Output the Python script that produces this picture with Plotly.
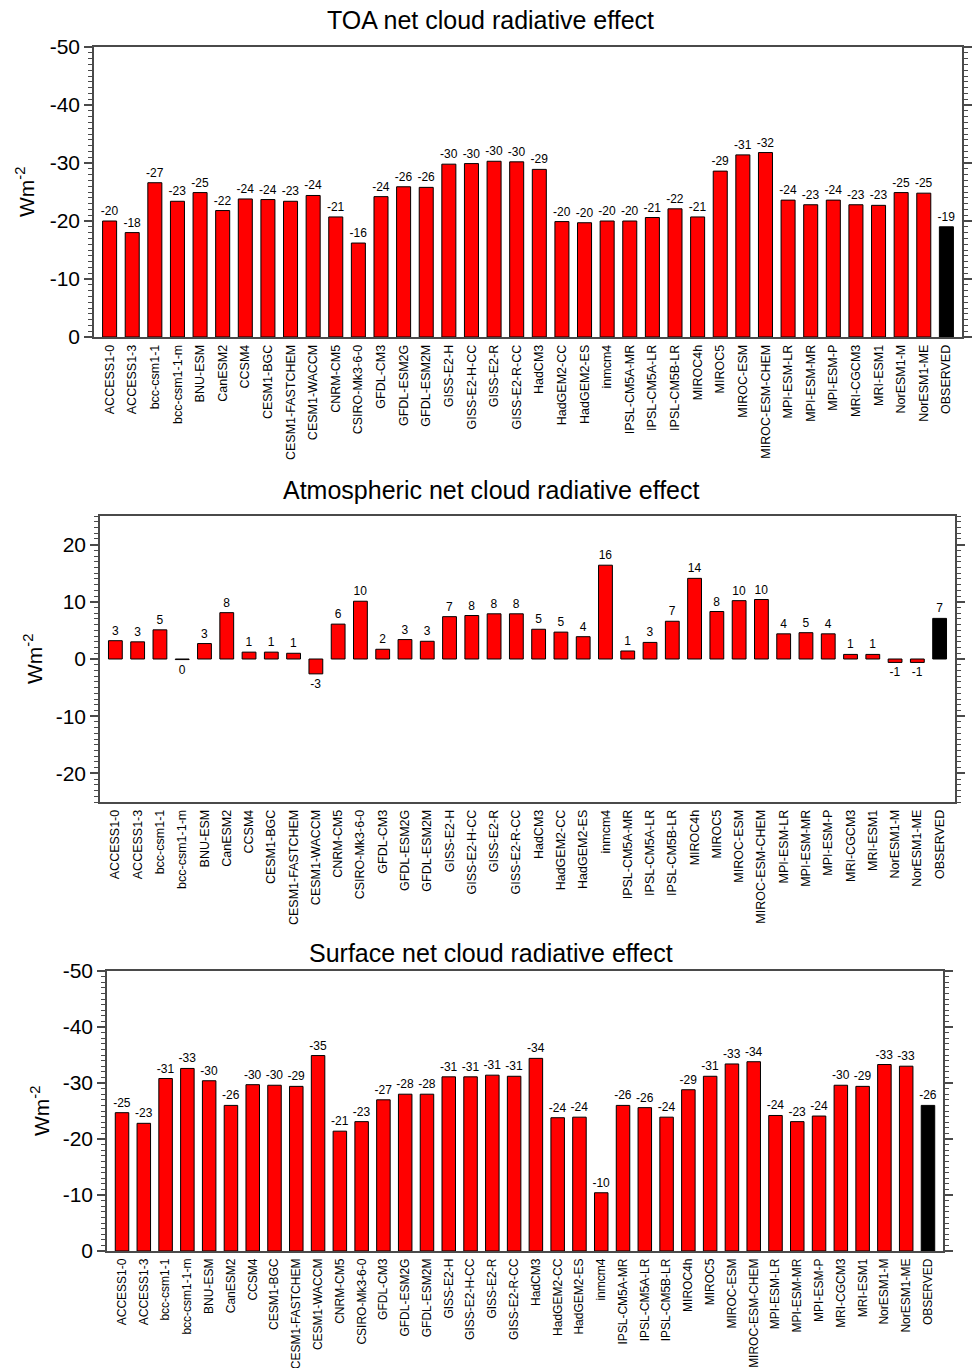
import plotly.graph_objects as go

# CMIP5 models plus the observational estimate (last entry)
models = [
    "ACCESS1-0", "ACCESS1-3", "bcc-csm1-1", "bcc-csm1-1-m", "BNU-ESM", "CanESM2",
    "CCSM4", "CESM1-BGC", "CESM1-FASTCHEM", "CESM1-WACCM", "CNRM-CM5",
    "CSIRO-Mk3-6-0", "GFDL-CM3", "GFDL-ESM2G", "GFDL-ESM2M", "GISS-E2-H",
    "GISS-E2-H-CC", "GISS-E2-R", "GISS-E2-R-CC", "HadCM3", "HadGEM2-CC",
    "HadGEM2-ES", "inmcm4", "IPSL-CM5A-MR", "IPSL-CM5A-LR", "IPSL-CM5B-LR",
    "MIROC4h", "MIROC5", "MIROC-ESM", "MIROC-ESM-CHEM", "MPI-ESM-LR",
    "MPI-ESM-MR", "MPI-ESM-P", "MRI-CGCM3", "MRI-ESM1", "NorESM1-M",
    "NorESM1-ME", "OBSERVED",
]

# Net cloud radiative effect, W m-2
toa_cre = [
    -20.0, -18.0, -26.6, -23.4, -24.9, -21.8, -23.8, -23.7, -23.4, -24.4,
    -20.7, -16.2, -24.2, -25.9, -25.8, -29.8, -29.9, -30.3, -30.2, -28.9,
    -19.9, -19.7, -20.0, -20.0, -20.6, -22.1, -20.7, -28.6, -31.4, -31.8,
    -23.6, -22.8, -23.6, -22.8, -22.7, -24.9, -24.8, -19.0,
]
atm_cre = [
    3.2, 3.0, 5.1, -0.1, 2.7, 8.1, 1.2, 1.2, 1.0, -2.6,
    6.1, 10.1, 1.7, 3.4, 3.1, 7.4, 7.6, 7.9, 7.9, 5.2,
    4.7, 3.9, 16.4, 1.4, 2.9, 6.6, 14.1, 8.3, 10.2, 10.4,
    4.4, 4.6, 4.4, 0.8, 0.8, -0.6, -0.6, 7.1,
]
sfc_cre = [
    -24.7, -22.8, -30.8, -32.6, -30.4, -26.0, -29.7, -29.6, -29.4, -34.9,
    -21.4, -23.1, -27.0, -28.0, -28.0, -31.1, -31.1, -31.4, -31.2, -34.4,
    -23.8, -23.9, -10.4, -26.0, -25.6, -23.9, -28.8, -31.2, -33.4, -33.8,
    -24.2, -23.1, -24.1, -29.6, -29.4, -33.3, -33.0, -26.0,
]

panel_titles = [
    "TOA net cloud radiative effect",
    "Atmospheric net cloud radiative effect",
    "Surface net cloud radiative effect",
]
y_ranges = [[0, -50], [-25, 25], [0, -50]]
y_ticks = [[0, -10, -20, -30, -40, -50], [-20, -10, 0, 10, 20], [0, -10, -20, -30, -40, -50]]

W, H = 972, 1368
FONT = "Liberation Sans, Arial, Helvetica, sans-serif"
AXIS_COLOR = "#4a4a4a"

# panel frames in pixels: (left, right, top, bottom)
frames = [
    (94, 962, 47, 337),
    (100, 955, 516, 802),
    (107, 943, 971, 1251),
]
title_y = [20, 490, 953]
ylabel_x = [25, 33, 40]
xlabel_size = [12.5, 12.5, 12]

colors = ["#ff0000"] * (len(models) - 1) + ["#000000"]

fig = go.Figure()
annotations = []
layout_axes = {}

for i, (vals, title) in enumerate(zip([toa_cre, atm_cre, sfc_cre], panel_titles)):
    n = i + 1
    suffix = "" if n == 1 else str(n)
    left, right, top, bottom = frames[i]
    fig.add_trace(go.Bar(
        x=models,
        y=vals,
        xaxis="x" + suffix,
        yaxis="y" + suffix,
        marker=dict(color=colors, line=dict(color="#000000", width=1)),
        width=0.62,
        text=[str(round(v)) for v in vals],
        textposition="outside",
        constraintext="none",
        textfont=dict(family=FONT, size=12, color="#000000"),
        cliponaxis=False,
        showlegend=False,
        hoverinfo="x+y",
    ))
    layout_axes["xaxis" + suffix] = dict(
        domain=[left / W, right / W],
        anchor="y" + suffix,
        type="category",
        range=[-0.69, len(models) - 1 + 0.69],
        tickangle=-90,
        ticks="",
        showline=True,
        linecolor=AXIS_COLOR,
        linewidth=1.5,
        mirror=True,
        showgrid=False,
        zeroline=False,
        automargin=False,
        tickfont=dict(family=FONT, size=xlabel_size[i], color="#000000"),
        ticklabelstandoff=1,
    )
    layout_axes["yaxis" + suffix] = dict(
        domain=[1 - bottom / H, 1 - top / H],
        anchor="x" + suffix,
        range=y_ranges[i],
        autorange=False,
        tickmode="array",
        tickvals=y_ticks[i],
        ticktext=[str(t) for t in y_ticks[i]],
        ticks="outside",
        ticklen=8,
        tickwidth=1.5,
        tickcolor=AXIS_COLOR,
        minor=dict(dtick=1, tick0=0, ticks="outside", ticklen=4,
                   tickwidth=1, tickcolor=AXIS_COLOR, showgrid=False),
        showline=True,
        linecolor=AXIS_COLOR,
        linewidth=1.5,
        mirror="ticks",
        showgrid=False,
        zeroline=False,
        automargin=False,
        tickfont=dict(family=FONT, size=21, color="#000000"),
    )
    annotations.append(dict(
        text=title, xref="paper", yref="paper",
        x=491 / W, y=1 - title_y[i] / H, xanchor="center", yanchor="middle",
        showarrow=False, font=dict(family=FONT, size=25, color="#000000"),
    ))
    annotations.append(dict(
        text="Wm<sup>-2</sup>", xref="paper", yref="paper",
        x=ylabel_x[i] / W, y=1 - ((top + bottom) / 2) / H,
        xanchor="center", yanchor="middle", textangle=-90,
        showarrow=False, font=dict(family=FONT, size=21, color="#000000"),
    ))

fig.update_layout(
    width=W,
    height=H,
    margin=dict(l=0, r=0, t=0, b=0),
    paper_bgcolor="#ffffff",
    plot_bgcolor="#ffffff",
    annotations=annotations,
    bargap=0.38,
    **layout_axes,
)

fig.write_html("out.html")
